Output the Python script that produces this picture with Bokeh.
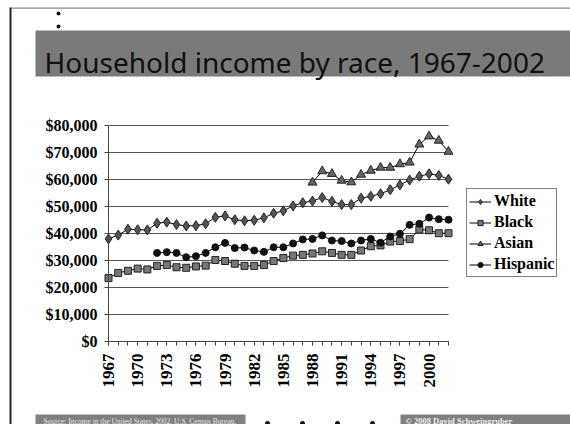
from bokeh.plotting import figure
from bokeh.models import (Range1d, FixedTicker, NumeralTickFormatter, Legend, LegendItem, Label,
                          LinearAxis)
from bokeh.embed import file_html
from bokeh.resources import INLINE
import math

years = list(range(1967, 2003))
white = [38000, 39400, 41600, 41400, 41300, 43800, 44200, 43300, 42800, 42900, 43600, 46000,
         46500, 45100, 44700, 44900, 45800, 47500, 48400, 50200, 51400, 52000, 53300, 51900,
         50700, 50700, 53100, 53800, 54700, 56200, 58000, 59800, 61200, 62100, 61500, 60100]
black = [23500, 25400, 26200, 27000, 26700, 28000, 28300, 27500, 27300, 27800, 28100, 30200,
         29800, 28800, 28000, 28000, 28300, 29800, 30900, 31800, 32100, 32600, 33400, 32800,
         32100, 32100, 33700, 35300, 35600, 37000, 37200, 37900, 41500, 41200, 40100, 40100]
asian_years = list(range(1988, 2003))
asian = [58900, 63100, 62100, 59600, 59000, 61800, 63300, 64400, 64400, 65700, 66300, 73000,
         76000, 74400, 70300]
hisp_years = list(range(1972, 2003))
hispanic = [32800, 33100, 32800, 31200, 31600, 32800, 34900, 36500, 34600, 34800, 33700, 33200,
            34900, 34900, 36300, 37800, 38000, 39300, 37400, 37200, 36300, 37400, 38000, 36600,
            38900, 39900, 43200, 43600, 45900, 45300, 45100]
y_ticks = list(range(0, 80001, 10000))
x_label_years = list(range(1967, 2001, 3))
title_text = "Household income by race, 1967-2002"
source_text = "Source: Income in the United States, 2002. U.S. Census Bureau."
copyright_text = "\u00a9 2008 David Schweingruber"

# canvas geometry (pixels) of the plotting area inside the slide
W, H = 570, 424
FL, FR, FT, FB = 108, 448, 125, 341
X0, X1 = years[0], years[-1]
Y0, Y1 = y_ticks[0], y_ticks[-1]
kx = (FR - FL) / (X1 - X0)
ky = (FB - FT) / (Y1 - Y0)
x_range = Range1d(X0 - FL / kx, X1 + (W - FR) / kx)
y_range = Range1d(Y0 - (H - FB) / ky, Y1 + FT / ky)

serif = "Liberation Serif"
BORDER = "#222"

p = figure(width=W, height=H, output_backend="svg", toolbar_location=None,
           x_range=x_range, y_range=y_range, x_axis_type=None, y_axis_type=None,
           min_border=0)
p.extra_x_ranges = {"px": Range1d(0, W)}
p.extra_y_ranges = {"py": Range1d(H, 0)}
p.outline_line_color = None
p.grid.visible = False
p.background_fill_color = "white"
p.border_fill_color = "white"

# ---------- slide decorations ----------
PX = dict(x_range_name="px", y_range_name="py")
p.quad(left=[10], right=[W], top=[7], bottom=[8.2], fill_color="#888", line_color=None, **PX)
p.quad(left=[9], right=[11], top=[7], bottom=[H], fill_color=BORDER, line_color=None, **PX)
p.quad(left=[35], right=[W], top=[30], bottom=[76], fill_color="#7a7a7a", line_color=None, **PX)
p.quad(left=[35, 400], right=[245, W], top=[414, 414], bottom=[H, H],
       fill_color="#808080", line_color=None, **PX)
p.scatter(x=[58, 58], y=[13, 26], marker="circle", size=4, fill_color="#111", line_color=None, **PX)
p.scatter(x=[267, 302, 337, 372], y=[423, 423, 423, 423], marker="circle", size=5,
          fill_color="#111", line_color=None, **PX)
p.add_layout(Label(x=44, y=61, text=title_text, text_font="Noto Sans", text_font_size="28px",
                   text_color="#111", text_baseline="alphabetic", **PX))
p.add_layout(Label(x=43, y=420.5, text=source_text, text_font=serif, text_font_size="7.5px",
                   text_color="#e6e6e6", text_baseline="alphabetic", **PX))
p.add_layout(Label(x=405, y=420, text=copyright_text, text_font=serif, text_font_size="8.5px",
                   text_font_style="bold", text_color="#eeeeee", text_baseline="alphabetic", **PX))

# ---------- axes ----------
yaxis = LinearAxis(fixed_location=X0, bounds=(Y0, Y1))
yaxis.ticker = FixedTicker(ticks=y_ticks)
yaxis.formatter = NumeralTickFormatter(format="$0,0")
yaxis.major_label_text_font = serif
yaxis.major_label_text_font_style = "bold"
yaxis.major_label_text_font_size = "16px"
yaxis.major_label_text_color = "black"
yaxis.major_tick_out = 4
yaxis.major_tick_in = 0
yaxis.minor_tick_line_color = None
yaxis.major_label_standoff = 7
yaxis.axis_line_color = "#444"
yaxis.major_tick_line_color = "#444"
p.add_layout(yaxis, "left")

xaxis = LinearAxis(fixed_location=Y0, bounds=(X0, X1))
xaxis.ticker = FixedTicker(ticks=x_label_years, minor_ticks=years)
xaxis.major_label_orientation = math.pi / 2
xaxis.major_label_text_font = serif
xaxis.major_label_text_font_style = "bold"
xaxis.major_label_text_font_size = "17px"
xaxis.major_label_text_color = "black"
xaxis.major_tick_out = 4
xaxis.major_tick_in = 0
xaxis.minor_tick_out = 4
xaxis.minor_tick_in = 0
xaxis.major_label_standoff = 8
xaxis.axis_line_color = "#444"
xaxis.major_tick_line_color = "#444"
xaxis.minor_tick_line_color = "#444"
p.add_layout(xaxis, "below")

# horizontal grid lines at the y ticks, spanning the category axis
p.segment(x0=[X0] * len(y_ticks), x1=[X1] * len(y_ticks), y0=y_ticks, y1=y_ticks,
          line_color="#555", line_width=1)

# ---------- series ----------
lw = 1.0
r_wl = p.line(years, white, line_color="black", line_width=lw)
r_wm = p.scatter(years, white, marker="diamond", size=10, fill_color="#555", line_color="#222")
r_bl = p.line(years, black, line_color="black", line_width=lw)
r_bm = p.scatter(years, black, marker="square", size=7, fill_color="#777", line_color="#222")
r_al = p.line(asian_years, asian, line_color="black", line_width=lw)
r_am = p.scatter(asian_years, asian, marker="triangle", size=9, fill_color="#666", line_color="#222")
r_hl = p.line(hisp_years, hispanic, line_color="black", line_width=lw)
r_hm = p.scatter(hisp_years, hispanic, marker="circle", size=7, fill_color="#111", line_color="#111")

legend = Legend(items=[
    LegendItem(label="White", renderers=[r_wl, r_wm]),
    LegendItem(label="Black", renderers=[r_bl, r_bm]),
    LegendItem(label="Asian", renderers=[r_al, r_am]),
    LegendItem(label="Hispanic", renderers=[r_hl, r_hm]),
], location=(466, H - 277))
legend.label_text_font = serif
legend.label_text_font_style = "bold"
legend.label_text_font_size = "16px"
legend.label_text_color = "black"
legend.glyph_width = 22
legend.glyph_height = 13
legend.label_height = 20
legend.label_standoff = 3
legend.spacing = 1
legend.padding = 2
legend.margin = 0
legend.border_line_color = "black"
legend.border_line_width = 1
legend.background_fill_alpha = 1
p.add_layout(legend, "center")

open("out.html", "w").write(file_html(p, INLINE))
